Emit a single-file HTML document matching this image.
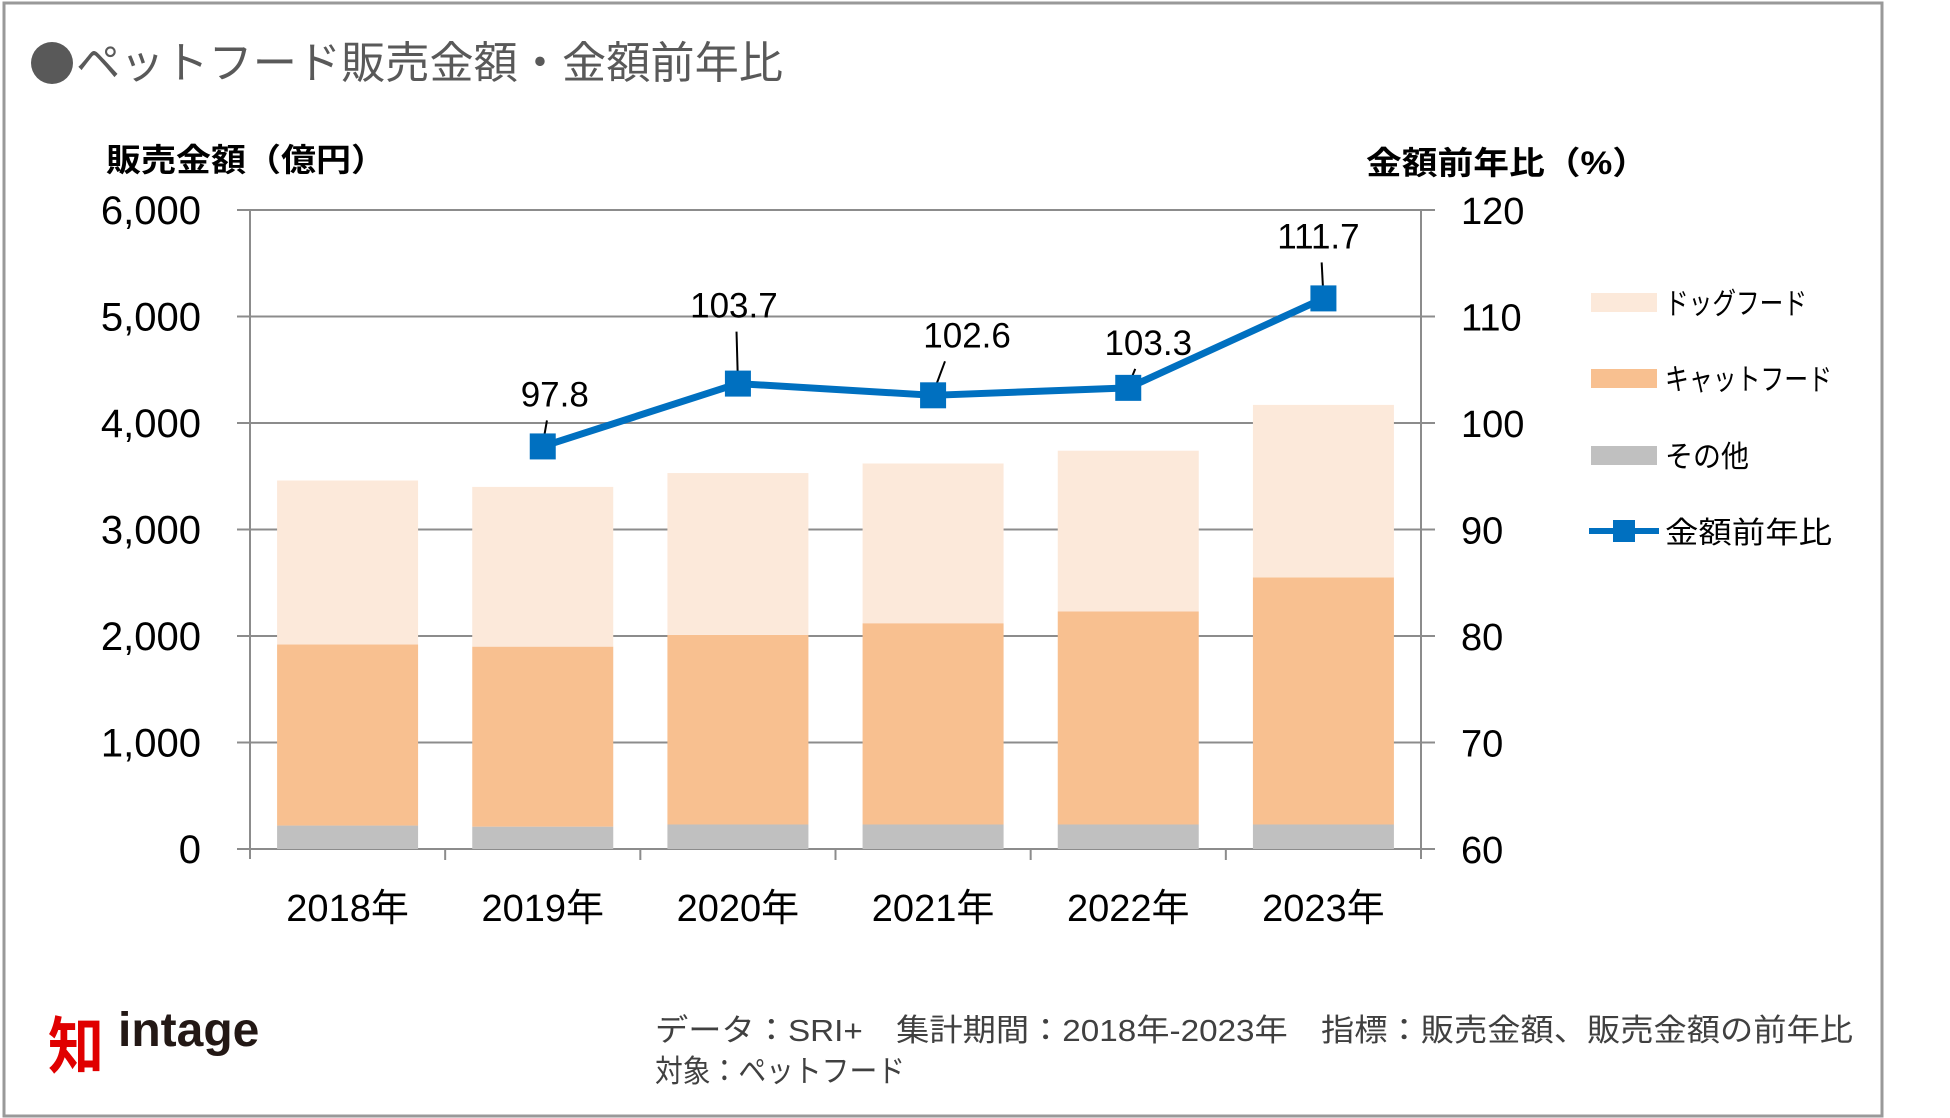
<!DOCTYPE html>
<html><head><meta charset="utf-8"><style>
html,body{margin:0;padding:0;background:#fff;}
svg{display:block;}
text{font-family:"Liberation Sans","Noto Sans CJK JP",sans-serif;}
</style></head><body>
<svg id="chart" width="1950" height="1118" viewBox="0 0 1950 1118" xmlns="http://www.w3.org/2000/svg">
<rect x="4" y="3" width="1878" height="1113" fill="#fff" stroke="#999" stroke-width="3"/>
<circle cx="52" cy="63" r="21" fill="#595959"/>
<text x="76" y="78" font-size="44" fill="#595959" textLength="707" lengthAdjust="spacingAndGlyphs">ペットフード販売金額・金額前年比</text>
<text x="106" y="171" font-size="32" font-weight="bold" fill="#000" textLength="280" lengthAdjust="spacingAndGlyphs">販売金額（億円）</text>
<text x="1366" y="174" font-size="32" font-weight="bold" fill="#000" textLength="282" lengthAdjust="spacingAndGlyphs">金額前年比（%）</text>
<g id="grid"></g>
<g id="bars"></g>
<g id="axes"></g>
<g id="line"></g>
<g id="legend">
  <rect x="1591" y="293" width="66" height="19" fill="#FCE9DA"/>
  <text x="1665" y="314" font-size="30" fill="#000" textLength="142" lengthAdjust="spacingAndGlyphs">ドッグフード</text>
  <rect x="1591" y="369" width="66" height="19" fill="#F8C090"/>
  <text x="1665" y="390" font-size="30" fill="#000" textLength="167" lengthAdjust="spacingAndGlyphs">キャットフード</text>
  <rect x="1591" y="446" width="66" height="19" fill="#C0C0C0"/>
  <text x="1665" y="467" font-size="30" fill="#000" textLength="84" lengthAdjust="spacingAndGlyphs">その他</text>
  <line x1="1589" y1="531" x2="1659" y2="531" stroke="#0070C0" stroke-width="6"/>
  <rect x="1613" y="520" width="22" height="22" fill="#0070C0"/>
  <text x="1665" y="543" font-size="30" fill="#000" textLength="167" lengthAdjust="spacingAndGlyphs">金額前年比</text>
</g>
<g>
  <text x="48" y="1068" font-size="62" fill="#E00000" font-weight="bold" textLength="56" lengthAdjust="spacingAndGlyphs">知</text>
  <text x="118" y="1046" font-size="48" font-weight="bold" fill="#231815">intage</text>
</g>
<text x="655" y="1041" font-size="31" fill="#404040" textLength="1198" lengthAdjust="spacingAndGlyphs">データ：SRI+　集計期間：2018年-2023年　指標：販売金額、販売金額の前年比</text>
<text x="655" y="1082" font-size="31" fill="#404040" textLength="250" lengthAdjust="spacingAndGlyphs">対象：ペットフード</text>
</svg>
<script>
const categories = ["2018年","2019年","2020年","2021年","2022年","2023年"];
const otherValues = [220, 210, 230, 230, 230, 230];
const catValues = [1700, 1690, 1780, 1890, 2000, 2320];
const dogValues = [1540, 1500, 1520, 1500, 1510, 1620];
const yoyValues = [null, 97.8, 103.7, 102.6, 103.3, 111.7];
const leftTicks = [0,1000,2000,3000,4000,5000,6000];
const leftTickLabels = ["0","1,000","2,000","3,000","4,000","5,000","6,000"];
const rightTickLabels = ["60","70","80","90","100","110","120"];

const NS = "http://www.w3.org/2000/svg";
const X0 = 250, X1 = 1421, Y0 = 849, Y1 = 210;
const band = (X1 - X0) / categories.length;
const xC = i => X0 + band * (i + 0.5);
const yL = v => Y0 - (v / 6000) * (Y0 - Y1);
const yR = v => Y0 - ((v - 60) / 60) * (Y0 - Y1);
function mk(tag, attrs, parent){ const e=document.createElementNS(NS,tag); for(const k in attrs) e.setAttribute(k,attrs[k]); parent.appendChild(e); return e; }
const grid = document.getElementById('grid'), bars = document.getElementById('bars'), axes = document.getElementById('axes'), line = document.getElementById('line');

leftTicks.forEach((t,i)=>{
  const y = yL(t);
  const g = mk('line',{x1:237,x2:1435,y1:y,y2:y,stroke:'#8c8c8c','stroke-width':2},grid);
  
  
  const lt = mk('text',{x:201,y:y+14,'font-size':40,'text-anchor':'end',fill:'#000'},axes);
  lt.textContent = leftTickLabels[i];
  
  
  const rt = mk('text',{x:1461,y:y+14,'font-size':38,fill:'#000'},axes);
  rt.textContent = rightTickLabels[i];
  
  
});
const la = mk('line',{x1:X0,x2:X0,y1:Y1,y2:Y0+10,stroke:'#8c8c8c','stroke-width':2},axes);


const ra = mk('line',{x1:X1,x2:X1,y1:Y1,y2:Y0+10,stroke:'#8c8c8c','stroke-width':2},axes);


for(let i=1;i<categories.length;i++){
  const tk = mk('line',{x1:X0+band*i,x2:X0+band*i,y1:Y0,y2:Y0+11,stroke:'#8c8c8c','stroke-width':2},axes);
  
  
}
const BW = 141;
categories.forEach((c,i)=>{
  const x = xC(i) - BW/2;
  let base = 0;
  [[otherValues,'#C0C0C0','bar-other'],[catValues,'#F8C090','bar-cat'],[dogValues,'#FCE9DA','bar-dog']].forEach(([arr,col,name])=>{
    const v = arr[i];
    const r = mk('rect',{x:x,y:yL(base+v),width:BW,height:yL(base)-yL(base+v),fill:col},bars);
    
    
    base += v;
  });
  const t = mk('text',{x:xC(i),y:921,'font-size':38,'text-anchor':'middle',fill:'#000'},axes);
  t.textContent = c;
  
  
});
const pts = yoyValues.map((v,i)=>v==null?null:[xC(i),yR(v)]).filter(p=>p);
const pl = mk('polyline',{points:pts.map(p=>p.join(',')).join(' '),fill:'none',stroke:'#0070C0','stroke-width':7,'stroke-linejoin':'round'},line);


const labelOffsets = [null,[12,-40],[-4,-66],[34,-48],[20,-33],[-5,-50]];
yoyValues.forEach((v,i)=>{
  if(v==null) return;
  const x = xC(i), y = yR(v);
  const off = labelOffsets[i];
  const ld = mk('line',{x1:x,y1:y-2,x2:x+off[0]*0.35,y2:y+off[1]+14,stroke:'#000','stroke-width':2},line);
  
  
  const m = mk('rect',{x:x-13,y:y-13,width:26,height:26,fill:'#0070C0'},line);
  
  
  const t = mk('text',{x:x+off[0],y:y+off[1],'font-size':35,'text-anchor':'middle',fill:'#000'},line);
  t.textContent = v.toFixed(1);
  
  
});
</script>
</body></html>
